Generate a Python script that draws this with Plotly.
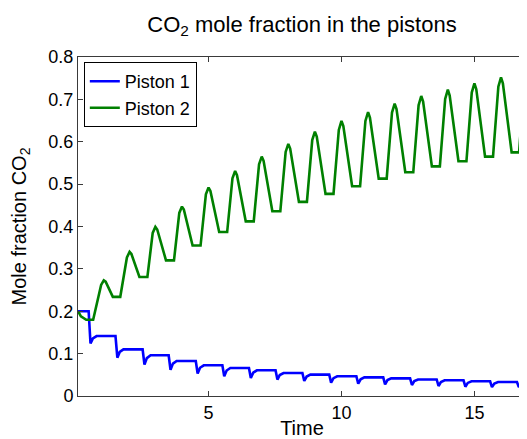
import plotly.graph_objects as go

# ---- data ----
# Piston 1 (blue): plateau, sharp drop, recovery, plateau ...
t_piston1 = [0.09,
    0.49, 0.56, 0.65, 0.79,
    1.50, 1.57, 1.66, 1.80,
    2.52, 2.59, 2.68, 2.82,
    3.50, 3.57, 3.66, 3.80,
    4.52, 4.59, 4.68, 4.82,
    5.52, 5.59, 5.68, 5.82,
    6.52, 6.59, 6.68, 6.82,
    7.52, 7.59, 7.68, 7.82,
    8.53, 8.60, 8.69, 8.83,
    9.54, 9.61, 9.70, 9.84,
    10.56, 10.63, 10.72, 10.86,
    11.57, 11.64, 11.73, 11.87,
    12.58, 12.65, 12.74, 12.88,
    13.58, 13.65, 13.74, 13.88,
    14.59, 14.66, 14.75, 14.89,
    15.59, 15.66, 15.75, 15.89,
    16.60, 16.67, 16.76, 16.90, 16.94]
y_piston1 = [0.200,
    0.200, 0.124, 0.136, 0.1415,
    0.1415, 0.0905, 0.104, 0.110,
    0.110, 0.074, 0.0894, 0.096,
    0.096, 0.062, 0.0764, 0.0826,
    0.0826, 0.053, 0.0666, 0.0724,
    0.0724, 0.0465, 0.0602, 0.066,
    0.066, 0.0425, 0.0552, 0.0606,
    0.0606, 0.0387, 0.0496, 0.0543,
    0.0543, 0.0354, 0.0459, 0.0504,
    0.0504, 0.0316, 0.0420, 0.0465,
    0.0465, 0.029, 0.0395, 0.044,
    0.044, 0.0276, 0.0375, 0.0417,
    0.0417, 0.026, 0.0351, 0.039,
    0.039, 0.0236, 0.033, 0.037,
    0.037, 0.022, 0.0309, 0.0347,
    0.0347, 0.021, 0.0294, 0.033,
    0.033, 0.021, 0.0287, 0.032, 0.032]

# Piston 2 (green): flat trough, steep rise, peak, fall ...
t_piston2 = [0.09, 0.20, 0.40, 0.66,
    0.96, 1.06, 1.13, 1.40, 1.68,
    1.93, 2.03, 2.10, 2.40, 2.70,
    2.90, 3.00, 3.07, 3.40, 3.70,
    3.90, 4.00, 4.07, 4.40, 4.70,
    4.90, 5.00, 5.07, 5.40, 5.70,
    5.90, 6.00, 6.07, 6.40, 6.70,
    6.90, 7.00, 7.07, 7.40, 7.70,
    7.90, 8.00, 8.07, 8.40, 8.70,
    8.90, 9.00, 9.07, 9.40, 9.70,
    9.90, 10.00, 10.07, 10.40, 10.70,
    10.90, 11.00, 11.07, 11.40, 11.70,
    11.90, 12.00, 12.07, 12.40, 12.70,
    12.90, 13.00, 13.07, 13.40, 13.70,
    13.90, 14.00, 14.07, 14.40, 14.70,
    14.90, 15.00, 15.07, 15.40, 15.70,
    15.90, 16.00, 16.07, 16.40, 16.68,
    16.88, 16.94]
y_piston2 = [0.200, 0.188, 0.180, 0.180,
    0.262, 0.273, 0.270, 0.234, 0.234,
    0.327, 0.340, 0.335, 0.281, 0.281,
    0.385, 0.399, 0.393, 0.320, 0.320,
    0.432, 0.447, 0.440, 0.355, 0.355,
    0.476, 0.492, 0.484, 0.387, 0.387,
    0.514, 0.531, 0.521, 0.412, 0.412,
    0.547, 0.565, 0.555, 0.436, 0.436,
    0.576, 0.595, 0.584, 0.458, 0.458,
    0.604, 0.624, 0.612, 0.477, 0.477,
    0.628, 0.649, 0.637, 0.495, 0.495,
    0.649, 0.670, 0.657, 0.513, 0.513,
    0.669, 0.690, 0.677, 0.528, 0.528,
    0.686, 0.708, 0.695, 0.542, 0.542,
    0.701, 0.723, 0.709, 0.554, 0.554,
    0.716, 0.738, 0.724, 0.565, 0.565,
    0.730, 0.752, 0.738, 0.575, 0.575,
    0.745, 0.757]

x_tickvals = [5, 10, 15]
x_ticktext = ["5", "10", "15"]
y_tickvals = [0, 0.1, 0.2, 0.3, 0.4, 0.5, 0.6, 0.7, 0.8]
y_ticktext = ["0", "0.1", "0.2", "0.3", "0.4", "0.5", "0.6", "0.7", "0.8"]

FONT = "Liberation Sans, Arial, Helvetica, sans-serif"
AXIS_COLOR = "#3a3a3a"

# The page body has an 8px default margin, so the figure is 8px smaller
# than the 527x439 window and all offsets are measured from (8, 8).
W, H = 519, 431

fig = go.Figure()
fig.add_trace(go.Scatter(x=t_piston1, y=y_piston1, mode="lines", name="Piston 1",
                         line=dict(color="#0000ff", width=2.6)))
fig.add_trace(go.Scatter(x=t_piston2, y=y_piston2, mode="lines", name="Piston 2",
                         line=dict(color="#008000", width=2.6)))

fig.update_layout(
    template="none",
    width=W, height=H,
    margin=dict(l=70, r=1, t=49, b=43, pad=0, autoexpand=False),
    paper_bgcolor="white", plot_bgcolor="white",
    font=dict(family=FONT, size=18, color="#000000"),
    title=dict(text="CO<sub>2</sub> mole fraction in the pistons",
               x=0.5, xref="paper", xanchor="center",
               y=1 - 16 / H, yref="container", yanchor="middle",
               font=dict(family=FONT, size=22, color="#000000")),
    showlegend=True,
    legend=dict(x=0.013, y=0.985, xanchor="left", yanchor="top",
                bgcolor="white", bordercolor="#000000", borderwidth=1,
                font=dict(family=FONT, size=18, color="#000000"),
                tracegroupgap=0, itemwidth=30),
    xaxis=dict(range=[0.09, 16.94], tickvals=x_tickvals, ticktext=x_ticktext,
               ticks="inside", ticklen=5, tickcolor=AXIS_COLOR, tickwidth=1,
               showline=True, linecolor=AXIS_COLOR, linewidth=1, mirror="ticks",
               showgrid=False, zeroline=False, automargin=False,
               tickfont=dict(family=FONT, size=18),
               title=dict(text="Time", font=dict(family=FONT, size=20), standoff=6)),
    yaxis=dict(range=[0, 0.8], tickvals=y_tickvals, ticktext=y_ticktext,
               ticks="inside", ticklen=5, tickcolor=AXIS_COLOR, tickwidth=1,
               showline=True, linecolor=AXIS_COLOR, linewidth=1, mirror="ticks",
               showgrid=False, zeroline=False, automargin=False,
               tickfont=dict(family=FONT, size=18),
               title=dict(text="Mole fraction CO<sub>2</sub>", font=dict(family=FONT, size=20),
                          standoff=16)),
)

fig.write_html("out.html")
